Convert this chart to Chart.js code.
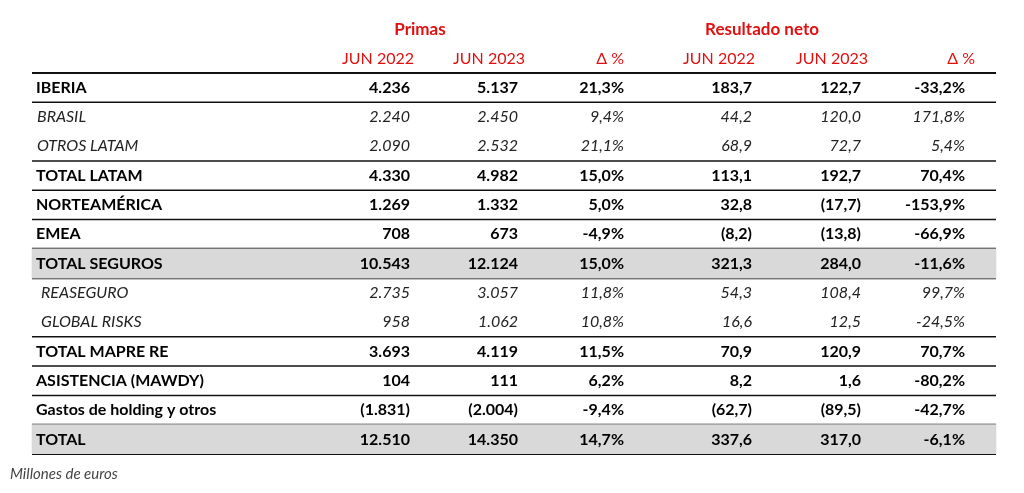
<!DOCTYPE html>
<html><head><meta charset="utf-8">
<script src="https://cdn.jsdelivr.net/npm/chart.js@4"></script>
<style>html,body{margin:0;padding:0;background:#fff}#w{width:1024px;height:493px}</style>
</head><body><div id="w"><canvas id="c"></canvas></div>
<script>
const rows = ["IBERIA","BRASIL","OTROS LATAM","TOTAL LATAM","NORTEAMÉRICA","EMEA","TOTAL SEGUROS","REASEGURO","GLOBAL RISKS","TOTAL MAPRE RE","ASISTENCIA (MAWDY)","Gastos de holding y otros","TOTAL"];
const italicRows = ["BRASIL","OTROS LATAM","REASEGURO","GLOBAL RISKS"];
const shadedRows = ["TOTAL SEGUROS","TOTAL"];
const groupHeaders = ["Primas","Resultado neto"];
const colHeaders = ["JUN 2022","JUN 2023","Δ %","JUN 2022","JUN 2023","Δ %"];
const primas2022 = ["4.236","2.240","2.090","4.330","1.269","708","10.543","2.735","958","3.693","104","(1.831)","12.510"];
const primas2023 = ["5.137","2.450","2.532","4.982","1.332","673","12.124","3.057","1.062","4.119","111","(2.004)","14.350"];
const primasDelta = ["21,3%","9,4%","21,1%","15,0%","5,0%","-4,9%","15,0%","11,8%","10,8%","11,5%","6,2%","-9,4%","14,7%"];
const neto2022 = ["183,7","44,2","68,9","113,1","32,8","(8,2)","321,3","54,3","16,6","70,9","8,2","(62,7)","337,6"];
const neto2023 = ["122,7","120,0","72,7","192,7","(17,7)","(13,8)","284,0","108,4","12,5","120,9","1,6","(89,5)","317,0"];
const netoDelta = ["-33,2%","171,8%","5,4%","70,4%","-153,9%","-66,9%","-11,6%","99,7%","-24,5%","70,7%","-80,2%","-42,7%","-6,1%"];
const footnote = "Millones de euros";

const cols = [primas2022,primas2023,primasDelta,neto2022,neto2023,netoDelta];
const colX = [410,518,624,752,861,965];
const headX = [414,525,624,755,868,975];
const FONT = "Lato, 'Open Sans', sans-serif";

const tablePlugin = {
  id:'table',
  beforeDatasetsDraw(chart){
    const {ctx, scales:{x,y}} = chart;
    ctx.save();
    const h = y.getPixelForValue(1)-y.getPixelForValue(0);
    ctx.strokeStyle='#111';
    rows.forEach((r,i)=>{
      const next = rows[i+1];
      if (italicRows.includes(r) && next && italicRows.includes(next)) return;
      const yb = y.getPixelForValue(i)+h/2;
      ctx.lineWidth = (next && shadedRows.includes(next)) || shadedRows.includes(r) ? 2 : 1.5;
      ctx.beginPath(); ctx.moveTo(x.getPixelForValue(32),yb); ctx.lineTo(x.getPixelForValue(996),yb); ctx.stroke();
    });
    const yt = y.getPixelForValue(0)-h/2;
    ctx.lineWidth=2; ctx.beginPath(); ctx.moveTo(x.getPixelForValue(32),yt); ctx.lineTo(x.getPixelForValue(996),yt); ctx.stroke();
    ctx.restore();
  },
  afterDatasetsDraw(chart){
    const {ctx, scales:{x,y}} = chart;
    ctx.save();
    ctx.textBaseline='middle';
    rows.forEach((r,i)=>{
      const yy = y.getPixelForValue(i);
      const it = italicRows.includes(r);
      ctx.fillStyle = it ? '#222' : '#000';
      ctx.font = (it ? 'italic 16px ' : 'bold 16px ') + FONT;
      ctx.textAlign='left';
      ctx.fillText(r, x.getPixelForValue(it ? (i>6 ? 41 : 37) : 36), yy);
      ctx.textAlign='right';
      cols.forEach((c,j)=>ctx.fillText(c[i], x.getPixelForValue(colX[j]), yy));
    });
    ctx.fillStyle='#e01010';
    ctx.font='bold 17px '+FONT; ctx.textAlign='center';
    ctx.fillText(groupHeaders[0], x.getPixelForValue(420), 30);
    ctx.fillText(groupHeaders[1], x.getPixelForValue(762), 30);
    ctx.font='16px '+FONT; ctx.textAlign='right';
    colHeaders.forEach((t,j)=>ctx.fillText(t, x.getPixelForValue(headX[j]), 59));
    ctx.fillStyle='#444'; ctx.font='italic 15px '+FONT; ctx.textAlign='left';
    ctx.fillText(footnote, 10, 474);
    ctx.restore();
  }
};

new Chart(document.getElementById('c'),{
  type:'bar',
  data:{labels:rows,datasets:[{
    data: rows.map(r=>shadedRows.includes(r)?[32,996]:null),
    backgroundColor:'#d9d9d9', barPercentage:1, categoryPercentage:1, borderWidth:0
  }]},
  options:{
    indexAxis:'y', responsive:true, maintainAspectRatio:false, animation:false,
    layout:{padding:{top:73,bottom:39,left:0,right:0}},
    plugins:{legend:{display:false},tooltip:{enabled:false}},
    scales:{
      x:{type:'linear',min:0,max:1024,display:false},
      y:{type:'category',display:false,offset:true}
    }
  },
  plugins:[tablePlugin]
});
</script></body></html>
